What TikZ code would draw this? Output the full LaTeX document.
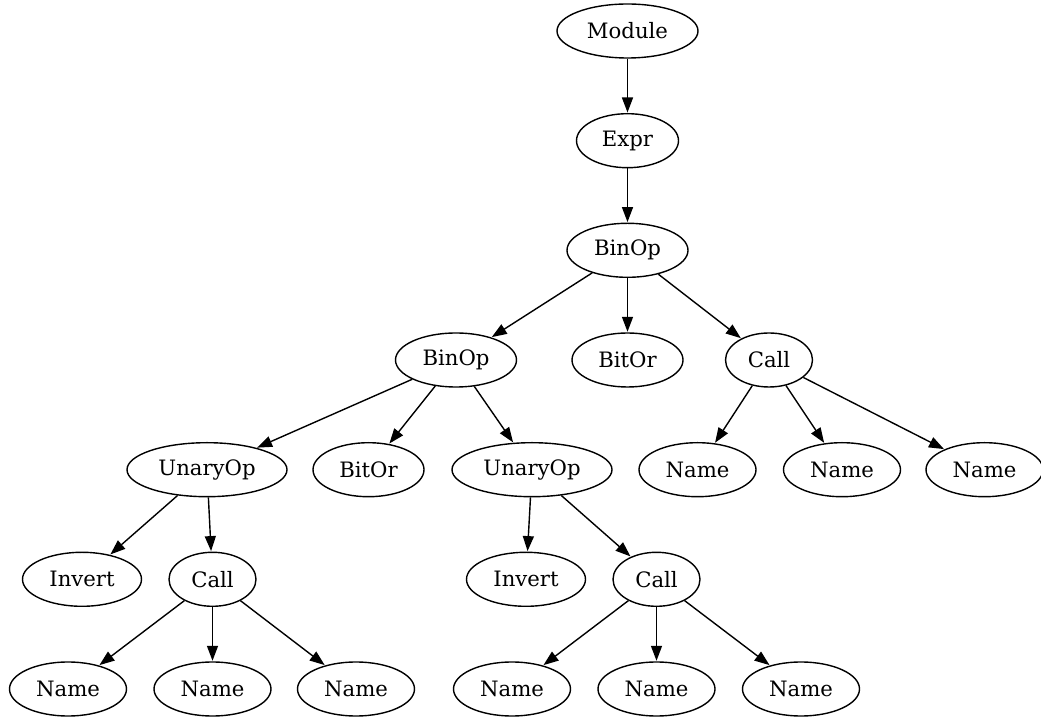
\documentclass[tikz,border=0pt]{standalone}
\usepackage{fontspec}
\setmainfont{DejaVu Serif}
\usetikzlibrary{shapes.geometric,arrows.meta}

\tikzset{
  tnode/.style={draw, ellipse, inner sep=0pt, line width=1.4pt,
    minimum height=54pt, font=\fontsize{21.2}{25}\selectfont},
  edge/.style={line width=1.4pt,
    -{Triangle[length=15pt,width=11pt]}, shorten >=0.5pt},
}

\begin{document}
\begin{tikzpicture}[x=1pt,y=1pt]
  \useasboundingbox (0,0) rectangle (1041,717);

  % level 0 -- 2
  \node[tnode, minimum width=141pt] (module) at (627.5,686) {Module};
  \node[tnode, minimum width=102pt] (expr)   at (627.5,576.3) {Expr};
  \node[tnode, minimum width=121pt] (bin1)   at (627.5,466.7) {BinOp};

  % level 3
  \node[tnode, minimum width=121pt] (bin2)   at (456,357) {BinOp};
  \node[tnode, minimum width=111pt] (bor1)   at (627.5,357) {BitOr};
  \node[tnode, minimum width=87pt]  (call1)  at (769,357) {Call};

  % level 4
  \node[tnode, minimum width=160pt] (un1)    at (207,247.3) {UnaryOp};
  \node[tnode, minimum width=111pt] (bor2)   at (368.5,247.3) {BitOr};
  \node[tnode, minimum width=160pt] (un2)    at (532,247.3) {UnaryOp};
  \node[tnode, minimum width=117pt] (n1)     at (697.5,247.3) {Name};
  \node[tnode, minimum width=117pt] (n2)     at (842,247.3) {Name};
  \node[tnode, minimum width=117pt] (n3)     at (984.5,247.3) {Name};

  % level 5
  \node[tnode, minimum width=119pt] (inv1)   at (82,137.7) {Invert};
  \node[tnode, minimum width=87pt]  (call2)  at (212.5,137.7) {Call};
  \node[tnode, minimum width=119pt] (inv2)   at (526,137.7) {Invert};
  \node[tnode, minimum width=87pt]  (call3)  at (656.5,137.7) {Call};

  % level 6
  \node[tnode, minimum width=117pt] (n4)     at (68,28) {Name};
  \node[tnode, minimum width=117pt] (n5)     at (212.5,28) {Name};
  \node[tnode, minimum width=117pt] (n6)     at (356,28) {Name};
  \node[tnode, minimum width=117pt] (n7)     at (512,28) {Name};
  \node[tnode, minimum width=117pt] (n8)     at (656.5,28) {Name};
  \node[tnode, minimum width=117pt] (n9)     at (801,28) {Name};

  % edges
  \draw[edge] (module) -- (expr);
  \draw[edge] (expr) -- (bin1);
  \draw[edge] (bin1) -- (bin2);
  \draw[edge] (bin1) -- (bor1);
  \draw[edge] (bin1) -- (call1);
  \draw[edge] (bin2) -- (un1);
  \draw[edge] (bin2) -- (bor2);
  \draw[edge] (bin2) -- (un2);
  \draw[edge] (call1) -- (n1);
  \draw[edge] (call1) -- (n2);
  \draw[edge] (call1) -- (n3);
  \draw[edge] (un1) -- (inv1);
  \draw[edge] (un1) -- (call2);
  \draw[edge] (un2) -- (inv2);
  \draw[edge] (un2) -- (call3);
  \draw[edge] (call2) -- (n4);
  \draw[edge] (call2) -- (n5);
  \draw[edge] (call2) -- (n6);
  \draw[edge] (call3) -- (n7);
  \draw[edge] (call3) -- (n8);
  \draw[edge] (call3) -- (n9);
\end{tikzpicture}
\end{document}
